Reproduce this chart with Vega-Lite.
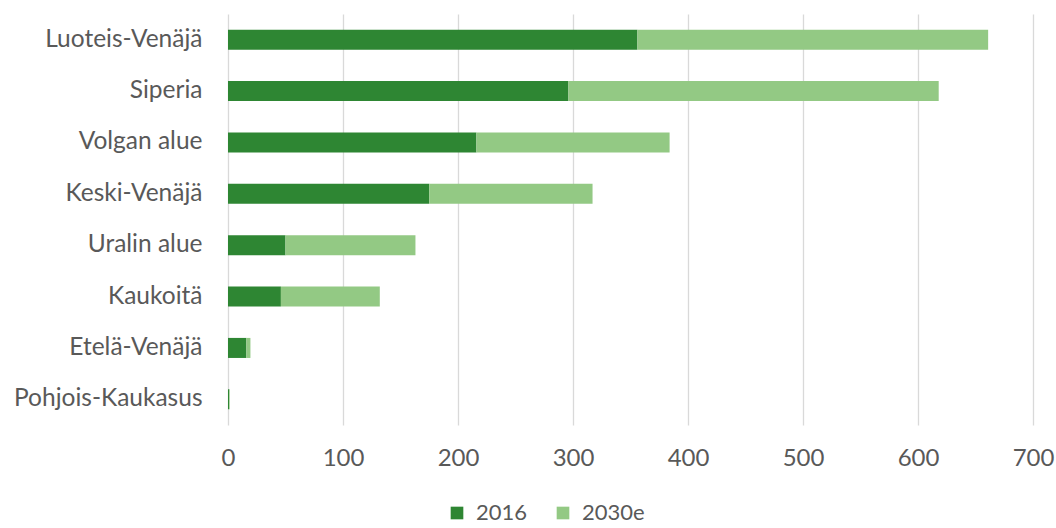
{
  "$schema": "https://vega.github.io/schema/vega-lite/v6.json",
  "width": 805,
  "height": 411,
  "autosize": "none",
  "padding": {"left": 228, "top": 14, "right": 23, "bottom": 103},
  "background": "#ffffff",
  "config": {
    "view": {"stroke": null},
    "font": "Lato",
    "axis": {"labelFont": "Lato", "labelColor": "#595959"}
  },
  "data": {
    "values": [
      {"region": "Luoteis-Venäjä", "year": "2016", "value": 356},
      {"region": "Luoteis-Venäjä", "year": "2030e", "value": 305},
      {"region": "Siperia", "year": "2016", "value": 296},
      {"region": "Siperia", "year": "2030e", "value": 322},
      {"region": "Volgan alue", "year": "2016", "value": 216},
      {"region": "Volgan alue", "year": "2030e", "value": 168},
      {"region": "Keski-Venäjä", "year": "2016", "value": 175},
      {"region": "Keski-Venäjä", "year": "2030e", "value": 142},
      {"region": "Uralin alue", "year": "2016", "value": 50},
      {"region": "Uralin alue", "year": "2030e", "value": 113},
      {"region": "Kaukoitä", "year": "2016", "value": 46},
      {"region": "Kaukoitä", "year": "2030e", "value": 86},
      {"region": "Etelä-Venäjä", "year": "2016", "value": 16},
      {"region": "Etelä-Venäjä", "year": "2030e", "value": 3.5},
      {"region": "Pohjois-Kaukasus", "year": "2016", "value": 1},
      {"region": "Pohjois-Kaukasus", "year": "2030e", "value": 0.5}
    ]
  },
  "mark": {"type": "bar"},
  "encoding": {
    "y": {
      "field": "region",
      "type": "nominal",
      "sort": ["Luoteis-Venäjä", "Siperia", "Volgan alue", "Keski-Venäjä", "Uralin alue", "Kaukoitä", "Etelä-Venäjä", "Pohjois-Kaukasus"],
      "scale": {"paddingInner": 0.61, "paddingOuter": 0.305},
      "axis": {"title": null, "ticks": false, "domain": false, "labelPadding": 26, "grid": false, "labelFontSize": 24.5, "labelLimit": 300}
    },
    "x": {
      "field": "value",
      "type": "quantitative",
      "stack": "zero",
      "scale": {"domain": [0, 700], "nice": false},
      "axis": {
        "title": null,
        "values": [0, 100, 200, 300, 400, 500, 600, 700],
        "ticks": false,
        "domain": false,
        "grid": true,
        "gridColor": "#d9d9d9",
        "gridWidth": 1.3,
        "labelFontSize": 24,
        "labelPadding": 21,
        "labelFlush": false
      }
    },
    "color": {
      "field": "year",
      "type": "nominal",
      "scale": {"domain": ["2016", "2030e"], "range": ["#2e8633", "#93c984"]},
      "legend": {
        "title": null,
        "orient": "none",
        "direction": "horizontal",
        "legendX": 218,
        "legendY": 488,
        "symbolType": "square",
        "symbolSize": 160,
        "symbolStrokeWidth": 0,
        "labelFont": "Lato",
        "labelFontSize": 22,
        "labelColor": "#595959",
        "labelOffset": 8,
        "columnPadding": 24
      }
    }
  }
}
